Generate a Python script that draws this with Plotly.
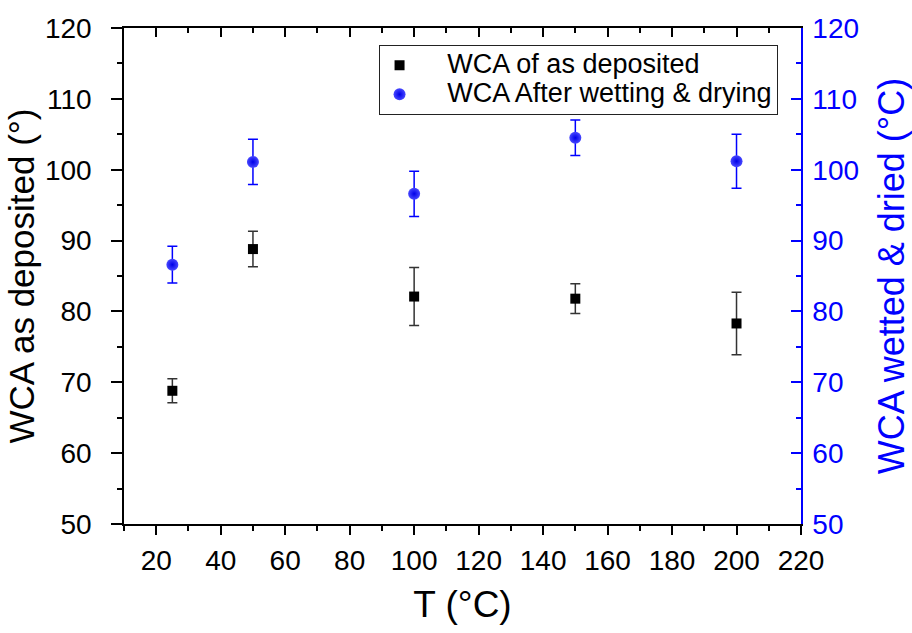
import plotly.graph_objects as go

T = [25, 50, 100, 150, 200]
wca_dep = [68.8, 88.8, 82.1, 81.8, 78.3]
wca_dep_err = [1.7, 2.5, 4.1, 2.1, 4.4]
wca_wet = [86.6, 101.1, 96.6, 104.5, 101.2]
wca_wet_err = [2.6, 3.2, 3.2, 2.5, 3.8]

x_ticks = list(range(20, 221, 20))
y_ticks = list(range(50, 121, 10))

names = ["WCA of as deposited", "WCA After wetting & drying"]

FONT = "Liberation Sans, Arial, sans-serif"
BLUE = "#0000ff"
PAD = "\u00a0" * 5


def legend_name(s):
    return PAD + '<span style="font-size:27px">' + s + "</span>"


fig = go.Figure()
fig.add_trace(go.Scatter(
    x=T, y=wca_dep, mode="markers", name=legend_name(names[0]),
    marker=dict(symbol="square", size=10, color="black"),
    error_y=dict(type="data", array=wca_dep_err, color="#333333", thickness=1.5, width=5),
    xaxis="x", yaxis="y"))
fig.add_trace(go.Scatter(
    x=T, y=wca_wet, mode="markers", name=legend_name(names[1]),
    marker=dict(symbol="circle", size=12, color="#4848ff",
                gradient=dict(type="radial", color="#0000e8"),
                line=dict(width=0)),
    error_y=dict(type="data", array=wca_wet_err, color=BLUE, thickness=1.5, width=5),
    xaxis="x", yaxis="y2"))
# dummy trace to display top mirrored axis
fig.add_trace(go.Scatter(x=[None], y=[None], xaxis="x2", yaxis="y",
                         showlegend=False, hoverinfo="skip"))

fig.update_layout(
    width=912, height=633,
    margin=dict(l=124, r=111, t=28, b=109, autoexpand=False),
    paper_bgcolor="white", plot_bgcolor="white",
    font=dict(family=FONT, color="black"),
    showlegend=True,
    legend=dict(x=0.376, y=0.966, xanchor="left", yanchor="top",
                bordercolor="#222222", borderwidth=1, bgcolor="white",
                font=dict(size=20, family=FONT)),
    xaxis=dict(range=[10, 220], tickvals=x_ticks, ticks="outside", ticklen=9,
               tickwidth=1.5, tickcolor="black", automargin=False,
               minor=dict(dtick=10, tick0=0, ticks="outside", ticklen=5, tickwidth=1.5, tickcolor="black"),
               showline=True, linecolor="black", linewidth=1.5, showgrid=False, zeroline=False,
               tickfont=dict(size=28), ticklabelstandoff=2,
               title=dict(text="T (°C)", font=dict(size=37), standoff=16)),
    xaxis2=dict(range=[10, 220], overlaying="x", side="top", anchor="y", tickvals=x_ticks,
                ticks="inside", ticklen=9, tickwidth=1.5, tickcolor="black", automargin=False,
                minor=dict(dtick=10, tick0=0, ticks="inside", ticklen=5, tickwidth=1.5, tickcolor="black"),
                showticklabels=False, showline=True, linecolor="black", linewidth=1.5,
                showgrid=False, zeroline=False),
    yaxis=dict(range=[50, 120], tickvals=y_ticks, ticks="outside", ticklen=11,
               tickwidth=1.5, tickcolor="black", automargin=False,
               minor=dict(dtick=5, tick0=0, ticks="outside", ticklen=5, tickwidth=1.5, tickcolor="black"),
               showline=True, linecolor="black", linewidth=1.5, showgrid=False, zeroline=False,
               tickfont=dict(size=28), ticklabelstandoff=14,
               title=dict(text="WCA as deposited (°)", font=dict(size=35), standoff=0)),
    yaxis2=dict(range=[50, 120], tickvals=y_ticks, overlaying="y", side="right", anchor="x",
                ticks="inside", ticklen=10, tickwidth=1.5, tickcolor=BLUE, automargin=False,
                minor=dict(dtick=5, tick0=0, ticks="inside", ticklen=5, tickwidth=1.5, tickcolor=BLUE),
                showline=True, linecolor=BLUE, linewidth=1.5, showgrid=False, zeroline=False,
                tickfont=dict(size=28, color=BLUE), ticklabelstandoff=4,
                title=dict(text="WCA wetted & dried (°C)", font=dict(size=36, color=BLUE), standoff=24)),
)

fig.write_html("out.html")
